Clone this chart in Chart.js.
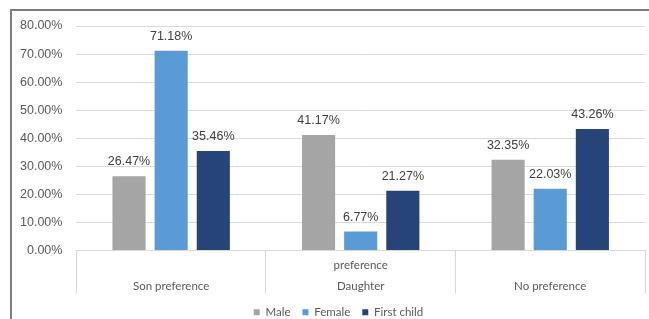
<!DOCTYPE html>
<html>
<head>
<meta charset="utf-8">
<script src="https://cdn.jsdelivr.net/npm/chart.js@4"></script>
<style>
  html, body { margin: 0; padding: 0; background: #fff; }
  #wrap { position: relative; width: 649px; height: 319px; overflow: hidden; }
  #frame { position: absolute; left: 10px; top: 9px; width: 700px; height: 400px;
           border-left: 2px solid #808080; border-top: 2px solid #808080; pointer-events: none; }
</style>
</head>
<body>
<div id="wrap">
  <canvas id="chart" width="649" height="319"></canvas>
  <div id="frame"></div>
</div>
<script>
document.addEventListener('DOMContentLoaded', function(){

    const categories = ['Son preference', ['preference', 'Daughter'], 'No preference'];
    const male = [26.47, 41.17, 32.35];
    const female = [71.18, 6.77, 22.03];
    const firstChild = [35.46, 21.27, 43.26];
    const yTicks = [0, 10, 20, 30, 40, 50, 60, 70, 80];

    // values above each bar
    const barLabels = {
        id: 'barLabels',
        afterDatasetsDraw(chart){
            const ctx = chart.ctx;
            ctx.save();
            ctx.font = '12.5px "Liberation Sans", Arial, sans-serif';
            ctx.fillStyle = '#404040';
            ctx.textAlign = 'center';
            ctx.textBaseline = 'bottom';
            chart.data.datasets.forEach(function(ds, i){
                chart.getDatasetMeta(i).data.forEach(function(bar, j){
                    ctx.fillText(ds.data[j].toFixed(2) + '%', bar.x, bar.y - 8);
                });
            });
            ctx.restore();
        }
    };

    // nudge the legend a bit to the right, like the original
    const legendShift = {
        id: 'legendShift',
        afterLayout(chart){
            if (chart.legend) {
                chart.legend.left += 13;
                chart.legend.right += 13;
            }
        }
    };

    const data = {
        labels: categories,
        datasets: [
            { label: 'Male', data: male, backgroundColor: '#a5a5a5' },
            { label: 'Female', data: female, backgroundColor: '#5b9bd5' },
            { label: 'First child', data: firstChild, backgroundColor: '#264478' }
        ]
    };

    new Chart(document.querySelector('#chart'), {
        type: 'bar',
        data: data,
        plugins: [barLabels, legendShift],
        options: {
            responsive: false,
            animation: false,
            devicePixelRatio: 1,
            layout: { padding: { left: 6, right: 4, top: 26, bottom: -9 } },
            datasets: {
                bar: { categoryPercentage: 0.667, barPercentage: 0.786 }
            },
            plugins: {
                legend: {
                    display: true,
                    position: 'bottom',
                    labels: {
                        boxWidth: 6,
                        boxHeight: 6,
                        padding: 12,
                        color: '#595959',
                        font: { family: 'Lato', size: 11.5 }
                    }
                },
                tooltip: { enabled: false }
            },
            scales: {
                y: {
                    min: 0,
                    max: 80,
                    afterBuildTicks: function(scale){
                        scale.ticks = yTicks.map(function(v){ return { value: v }; });
                    },
                    ticks: {
                        padding: 14,
                        color: '#595959',
                        font: { family: '"Liberation Sans"', size: 12.5 },
                        callback: function(v){ return v.toFixed(2) + '%'; }
                    },
                    grid: { color: '#d9d9d9', drawTicks: false },
                    border: { display: false }
                },
                x: {
                    offset: true,
                    afterFit: function(scale){ scale.height = 44; },
                    grid: {
                        offset: true,
                        drawOnChartArea: false,
                        drawTicks: true,
                        tickLength: 43,
                        color: '#d9d9d9'
                    },
                    border: { display: true, color: '#d9d9d9' },
                    ticks: {
                        padding: -28,
                        crossAlign: 'far',
                        maxRotation: 0,
                        autoSkip: false,
                        color: '#595959',
                        font: { family: 'Lato', size: 11.5, lineHeight: 1.8 }
                    }
                }
            }
        }
    });
});
</script>
</body>
</html>
